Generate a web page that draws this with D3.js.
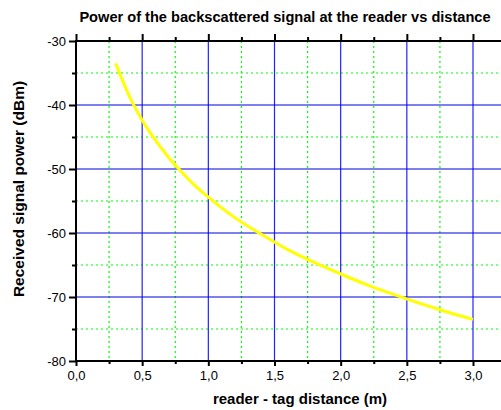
<!DOCTYPE html>
<html>
<head>
<meta charset="utf-8">
<script src="https://cdn.jsdelivr.net/npm/d3@7"></script>
<style>
  body { margin: 0; background: #fff; }
  svg { display: block; font-family: "Liberation Sans", Arial, sans-serif; }
</style>
</head>
<body>
<svg id="chart" width="501" height="410"></svg>
<script>
// values
const distance = [0.3, 0.4, 0.5, 0.6, 0.7, 0.8, 0.9, 1.0, 1.2, 1.4, 1.6, 1.8, 2.0, 2.2, 2.4, 2.6, 2.8, 3.0];
const power = [-33.5, -38.5, -42.4, -45.5, -48.2, -50.5, -52.6, -54.4, -57.6, -60.2, -62.6, -64.6, -66.4, -68.1, -69.6, -71.0, -72.3, -73.5];
const xMajor = [0, 0.5, 1.0, 1.5, 2.0, 2.5, 3.0];
const xMinor = [0.25, 0.75, 1.25, 1.75, 2.25, 2.75];
const yMajor = [-30, -40, -50, -60, -70, -80];
const yMinor = [-35, -45, -55, -65, -75];

const title = "Power of the backscattered signal at the reader vs distance";
const xTitle = "reader - tag distance (m)";
const yTitle = "Received signal power (dBm)";

const svg = d3.select("#chart");
const mLeft = 76, mTop = 41, mBottom = 361, mRight = 520;

const x = d3.scaleLinear().domain([0, 3]).range([mLeft, 473]);
const y = d3.scaleLinear().domain([-80, -30]).range([mBottom, mTop]);
const fmt = d => d3.format(".1f")(d).replace(".", ",");

const grid = svg.append("g");
// minor grid, green dotted
grid.selectAll("line.vmin").data(xMinor).join("line").attr("class", "vmin")
  .attr("x1", d => x(d)).attr("x2", d => x(d))
  .attr("y1", mTop).attr("y2", mBottom)
  .attr("stroke", "#00ff00").attr("stroke-width", 1.2).attr("stroke-dasharray", "2,3");
grid.selectAll("line.hmin").data(yMinor).join("line").attr("class", "hmin")
  .attr("x1", mLeft).attr("x2", mRight)
  .attr("y1", d => y(d)).attr("y2", d => y(d))
  .attr("stroke", "#00ff00").attr("stroke-width", 1.2).attr("stroke-dasharray", "2,3");
// major grid, blue
grid.selectAll("line.vmaj").data(xMajor.slice(1)).join("line").attr("class", "vmaj")
  .attr("x1", d => x(d)).attr("x2", d => x(d))
  .attr("y1", mTop).attr("y2", mBottom)
  .attr("stroke", "#2222ff").attr("stroke-width", 1.2);
grid.selectAll("line.hmaj").data(yMajor.slice(1, -1)).join("line").attr("class", "hmaj")
  .attr("x1", mLeft).attr("x2", mRight)
  .attr("y1", d => y(d)).attr("y2", d => y(d))
  .attr("stroke", "#0000dd").attr("stroke-width", 1.2);

// curve
svg.append("path")
  .datum(distance.map((d, i) => [d, power[i]]))
  .attr("fill", "none")
  .attr("stroke", "#ffff00")
  .attr("stroke-width", 3)
  .attr("d", d3.line().x(d => x(d[0])).y(d => y(d[1])).curve(d3.curveMonotoneX));

// axes
const axisStyle = g => {
  g.select(".domain").remove();
  g.selectAll("line").attr("stroke", "#000").attr("stroke-width", 2);
  g.selectAll("text").attr("font-size", 13).attr("fill", "#000");
};

svg.append("g").attr("transform", `translate(0,${mBottom})`)
  .call(d3.axisBottom(x).tickValues(xMajor).tickSize(5).tickPadding(5).tickFormat(fmt))
  .call(axisStyle);
svg.append("g").attr("transform", `translate(0,${mBottom})`)
  .call(d3.axisBottom(x).tickValues(xMinor).tickSize(3).tickFormat(""))
  .call(axisStyle);
svg.append("g").attr("transform", `translate(0,${mTop})`)
  .call(d3.axisTop(x).tickValues(xMajor).tickSize(7).tickFormat(""))
  .call(axisStyle);
svg.append("g").attr("transform", `translate(0,${mTop})`)
  .call(d3.axisTop(x).tickValues(xMinor).tickSize(4).tickFormat(""))
  .call(axisStyle);
svg.append("g").attr("transform", `translate(${mLeft},0)`)
  .call(d3.axisLeft(y).tickValues(yMajor).tickSize(7).tickPadding(3).tickFormat(d => String(d)))
  .call(axisStyle);
svg.append("g").attr("transform", `translate(${mLeft},0)`)
  .call(d3.axisLeft(y).tickValues(yMinor).tickSize(4).tickFormat(""))
  .call(axisStyle);

// frame lines
svg.append("line").attr("x1", mLeft).attr("x2", mRight).attr("y1", mTop).attr("y2", mTop)
  .attr("stroke", "#000").attr("stroke-width", 2);
svg.append("line").attr("x1", mLeft).attr("x2", mRight).attr("y1", mBottom).attr("y2", mBottom)
  .attr("stroke", "#000").attr("stroke-width", 2);
svg.append("line").attr("x1", mLeft).attr("x2", mLeft).attr("y1", mTop - 1).attr("y2", mBottom + 1)
  .attr("stroke", "#000").attr("stroke-width", 2);

// titles
svg.append("text").attr("x", 285).attr("y", 22).attr("text-anchor", "middle")
  .attr("font-size", 14.6).attr("font-weight", "bold").text(title);
svg.append("text").attr("x", 300).attr("y", 404).attr("text-anchor", "middle")
  .attr("font-size", 15).attr("font-weight", "bold").text(xTitle);
svg.append("text").attr("transform", "translate(24,189) rotate(-90)").attr("text-anchor", "middle")
  .attr("font-size", 15.5).attr("font-weight", "bold").text(yTitle);
</script>
</body>
</html>
